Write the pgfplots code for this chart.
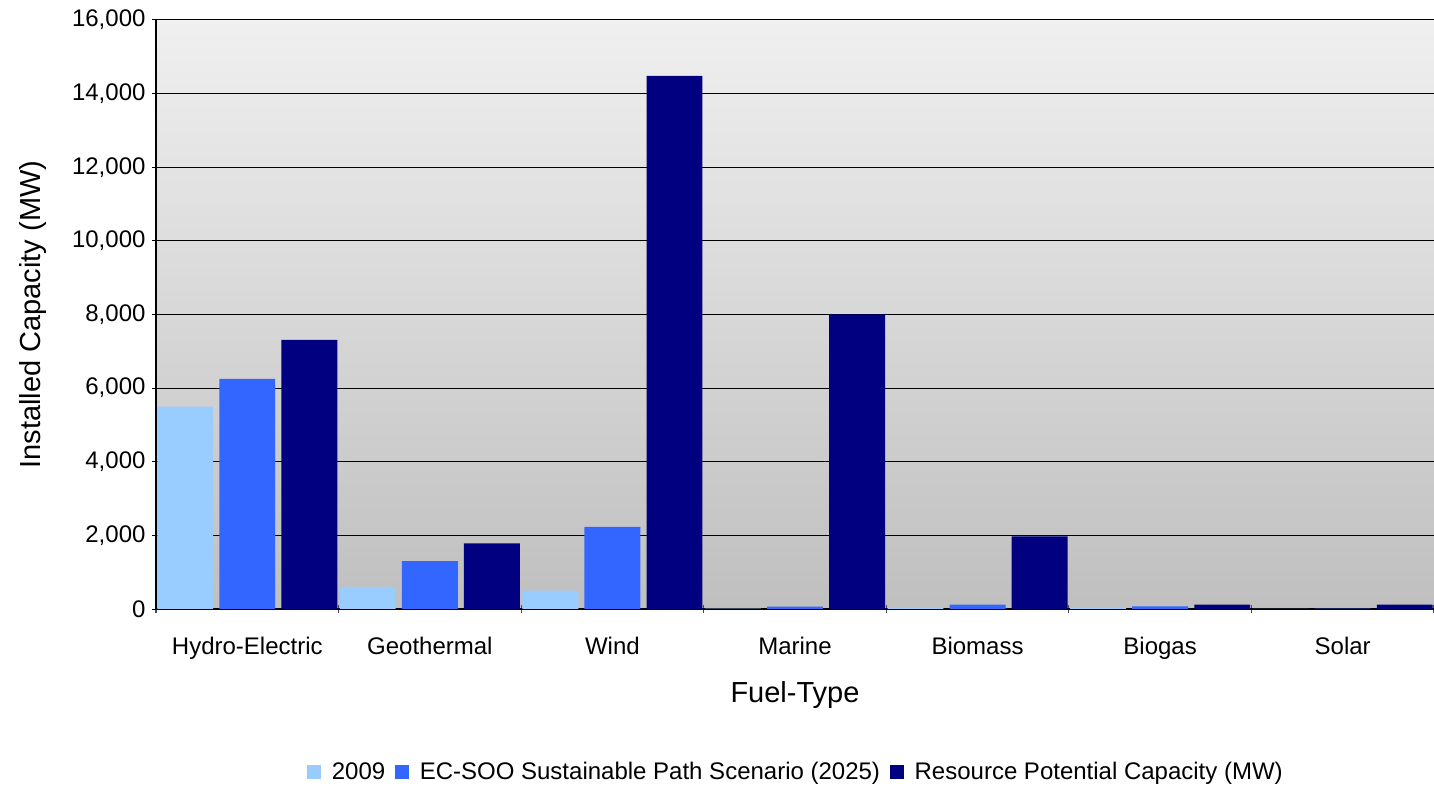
\documentclass[border=0pt]{standalone}
\usepackage{fontspec}
\setmainfont{Liberation Sans}
\usepackage{pgfplots}
\pgfplotsset{compat=1.18}
\definecolor{c2009}{HTML}{99CCFF}
\definecolor{cecsoo}{HTML}{3366FF}
\definecolor{cres}{HTML}{000080}
\begin{document}
\begin{tikzpicture}
\begin{axis}[
    scale only axis,
    width=639bp, height=294.5bp,
    ybar,
    bar width=0.306,
    xmin=-0.5, xmax=6.5,
    ymin=0, ymax=16000,
    xtick={0,...,6},
    xticklabels={Hydro-Electric,Geothermal,Wind,Marine,Biomass,Biogas,Solar},
    minor xtick={-0.5,0.5,...,6.5},
    major x tick style={draw=none},
    minor x tick style={black!70, line width=0.6bp},
    ytick={0,2000,...,16000},
    ytick style={black, line width=0.5bp},
    tick align=outside,
    major tick length=3.5bp,
    minor tick length=3.5bp,
    axis x line=bottom,
    axis y line=left,
    axis line style={-, black, line width=1bp},
    ymajorgrids,
    grid style={black, line width=0.5bp},
    scaled y ticks=false,
    yticklabel style={/pgf/number format/.cd, 1000 sep={,}, assume math mode=true},
    ticklabel style={font=\fontsize{12bp}{14bp}\selectfont},
    xticklabel style={yshift=-9bp},
    xlabel={Fuel-Type},
    ylabel={Installed Capacity (MW)},
    label style={font=\fontsize{14.5bp}{17bp}\selectfont},
    xlabel style={at={(axis description cs:0.5,-0.146)}, anchor=center},
    ylabel style={at={(axis description cs:-0.096,0.5)}, anchor=center},
    axis background/.style={shade, top color=black!6, bottom color=black!25},
    legend style={at={(axis description cs:0.5,-0.277)}, anchor=center,
        draw=none, fill=none, legend columns=3,
        font=\fontsize{12bp}{14bp}\selectfont,
        /tikz/every odd column/.append style={column sep=5.5bp},
        /tikz/every even column/.append style={column sep=5bp},
        nodes={inner sep=0bp}},
    legend image code/.code={\fill[#1] (0bp,-3.4bp) rectangle (6.8bp,3.4bp);},
]
\addplot[fill=c2009, draw=none, bar shift=-0.34] coordinates {
    (0,5500) (1,600) (2,500) (3,10) (4,40) (5,40) (6,5)};
\addplot[fill=cecsoo, draw=none, bar shift=0] coordinates {
    (0,6250) (1,1300) (2,2230) (3,65) (4,120) (5,70) (6,10)};
\addplot[fill=cres, draw=none, bar shift=0.34] coordinates {
    (0,7310) (1,1780) (2,14480) (3,8000) (4,1970) (5,120) (6,120)};
\legend{2009, EC-SOO Sustainable Path Scenario (2025), Resource Potential Capacity (MW)}
\draw[black!50, line width=0.5bp] (rel axis cs:1,0) -- (rel axis cs:1,1);
\end{axis}
\pgfresetboundingbox
\path[use as bounding box] ([shift={(-78bp,-88.5bp)}]current axis.south west) rectangle ([shift={(0bp,10bp)}]current axis.north east);
\end{tikzpicture}
\end{document}
